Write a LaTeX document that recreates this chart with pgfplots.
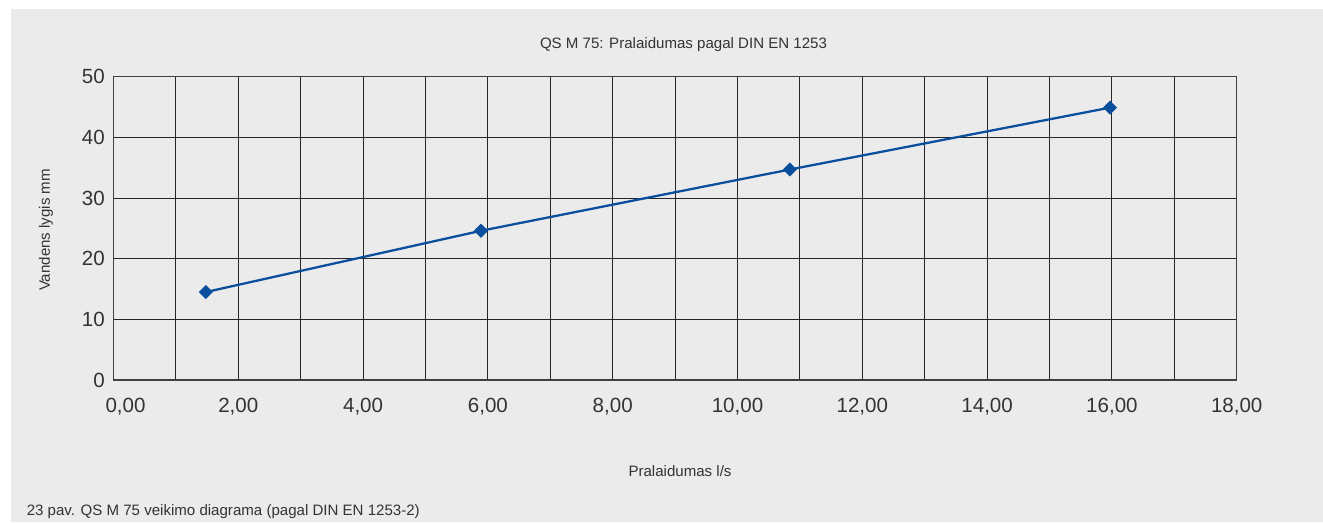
\documentclass[border=0pt]{standalone}
\usepackage{fontspec}
\setmainfont{Liberation Sans}
\usepackage{pgfplots}
\pgfplotsset{compat=1.18}
\definecolor{bg}{HTML}{EBEBEB}
\definecolor{txt}{HTML}{333333}
\definecolor{line}{HTML}{0A4E9E}
\begin{document}
\begin{tikzpicture}[x=0.75pt,y=0.75pt]
\path[fill=white] (0,0) rectangle (1323,-522);
\fill[bg] (11,-9) rectangle (1323,-522);
\begin{axis}[
  at={(85.125pt,-285pt)}, anchor=south west,
  scale only axis, width=842.4pt, height=227.5pt,
  xmin=0, xmax=18, ymin=0, ymax=50,
  xtick={0,2,...,18}, minor xtick={1,3,...,17},
  xticklabels={{\hspace*{18pt}0,00},{2,00},{4,00},{6,00},{8,00},{10,00},{12,00},{14,00},{16,00},{18,00}},
  ytick={0,10,...,50},
  grid=both,
  major grid style={black!85, line width=0.75pt},
  minor grid style={black!85, line width=0.75pt},
  axis line style={black!75, line width=1pt},
  major tick length=0pt, minor tick length=0pt,
  tick style={draw=none},
  /pgf/number format/assume math mode=true,
  yticklabel={\pgfmathprintnumber[fixed,precision=0]{\tick}},
  ticklabel style={font=\fontsize{15.4}{18}\selectfont, text=txt},
  xticklabel style={yshift=-10pt},
  yticklabel style={xshift=-3pt},
  clip=false,
]
\addplot[line, line width=1.7pt, mark=square*, mark size=2.9pt, mark options={rotate=45, fill=line, draw=line}]
 coordinates {(1.48,14.5) (5.89,24.6) (10.84,34.7) (15.97,44.9)};
\end{axis}
\node[text=txt, font=\fontsize{11.3}{13}\selectfont] at (683.5,-45) {QS M 75: Pralaidumas pagal DIN EN 1253};
\node[text=txt, font=\fontsize{11.3}{13}\selectfont] at (680,-471.5) {Pralaidumas l/s};
\node[text=txt, font=\fontsize{11.3}{13}\selectfont, rotate=90] at (46,-230) {Vandens lygis mm};
\node[text=txt, font=\fontsize{11.3}{13}\selectfont, anchor=west, inner sep=0pt] at (26.5,-512) {23 pav. QS M 75 veikimo diagrama (pagal DIN EN 1253-2)};
\end{tikzpicture}
\end{document}
